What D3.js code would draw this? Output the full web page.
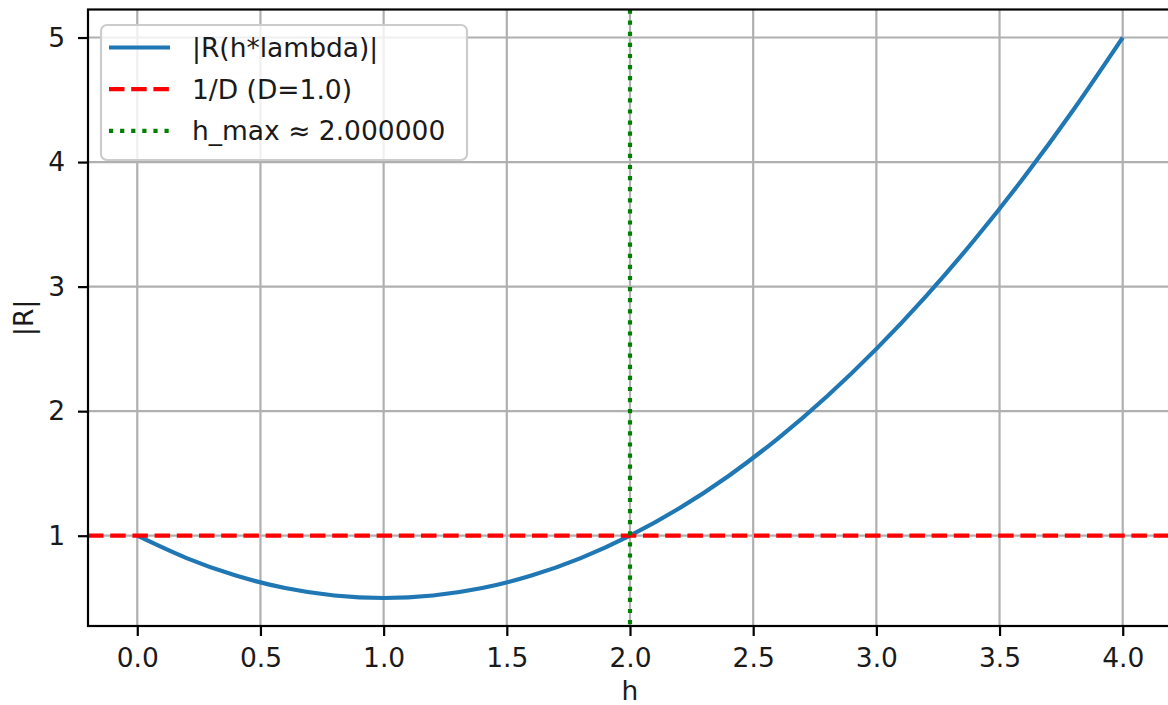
<!DOCTYPE html>
<html><head><meta charset="utf-8">
<script src="https://d3js.org/d3.v7.min.js"></script>
<style>body{margin:0;background:#fff}svg{display:block}text{font-family:"DejaVu Sans",sans-serif;fill:#1a1a1a}</style>
</head><body>
<script>
const hValues = [0,0.2,0.4,0.6,0.8,1.0,1.2,1.4,1.6,1.8,2.0,2.2,2.4,2.6,2.8,3.0,3.2,3.4,3.6,3.8,4.0];
const rValues = [1.0,0.82,0.68,0.58,0.52,0.5,0.52,0.58,0.68,0.82,1.0,1.22,1.48,1.78,2.12,2.5,2.92,3.38,3.88,4.42,5.0];
const xTicks = [0,0.5,1,1.5,2,2.5,3,3.5,4];
const yTicks = [1,2,3,4,5];
const refLevel = 1.0;
const hMax = 2.0;
const legendLabels = ["|R(h*lambda)|","1/D (D=1.0)","h_max \u2248 2.000000"];

const W=1168,H=705;
const m={left:88,top:9.5,right:1172,bottom:626};
const x=d3.scaleLinear().domain([-0.2,4.2]).range([m.left,m.right]);
const y=d3.scaleLinear().domain([0.275,5.225]).range([m.bottom,m.top]);
const svg=d3.select("body").append("svg").attr("width",W).attr("height",H);
const fs=26.5;
const lw=4.2, gw=2.2;

svg.append("clipPath").attr("id","plotclip").append("rect")
  .attr("x",m.left).attr("y",m.top).attr("width",m.right-m.left).attr("height",m.bottom-m.top);

// grid
const g=svg.append("g");
g.selectAll(".gx").data(xTicks).join("line")
  .attr("x1",d=>x(d)).attr("x2",d=>x(d)).attr("y1",m.top).attr("y2",m.bottom)
  .attr("stroke","#b0b0b0").attr("stroke-width",gw);
g.selectAll(".gy").data(yTicks).join("line")
  .attr("x1",m.left).attr("x2",m.right).attr("y1",d=>y(d)).attr("y2",d=>y(d))
  .attr("stroke","#b0b0b0").attr("stroke-width",gw);

const plot=svg.append("g").attr("clip-path","url(#plotclip)");
const pts=hValues.map((h,i)=>[h,rValues[i]]);
plot.append("path").datum(pts)
  .attr("d",d3.line().x(d=>x(d[0])).y(d=>y(d[1])).curve(d3.curveNatural))
  .attr("fill","none").attr("stroke","#1f77b4").attr("stroke-width",lw);
plot.append("line").attr("x1",m.left).attr("x2",m.right).attr("y1",y(refLevel)).attr("y2",y(refLevel))
  .attr("stroke","#ff0000").attr("stroke-width",lw).attr("stroke-dasharray","15.5,6.7");
plot.append("line").attr("x1",x(hMax)).attr("x2",x(hMax)).attr("y1",m.top).attr("y2",m.bottom)
  .attr("stroke","#008000").attr("stroke-width",lw).attr("stroke-dasharray","4.2,6.9");

// axes
const xa=svg.append("g").attr("transform",`translate(0,${m.bottom})`)
  .call(d3.axisBottom(x).tickValues(xTicks).tickFormat(d3.format(".1f")).tickSize(10).tickPadding(12));
const ya=svg.append("g").attr("transform",`translate(${m.left},0)`)
  .call(d3.axisLeft(y).tickValues(yTicks).tickFormat(d3.format("d")).tickSize(10).tickPadding(13));
[xa,ya].forEach(a=>{
  a.select(".domain").remove();
  a.selectAll(".tick line").attr("stroke","#000").attr("stroke-width",gw);
  a.selectAll(".tick text").attr("font-size",fs).attr("font-family","DejaVu Sans").attr("fill","#1a1a1a");
});
// spines
svg.append("rect").attr("x",m.left).attr("y",m.top).attr("width",m.right-m.left).attr("height",m.bottom-m.top)
  .attr("fill","none").attr("stroke","#000").attr("stroke-width",gw);

svg.append("text").attr("x",x(2)).attr("y",700).attr("text-anchor","middle").attr("font-size",fs).text("h");
svg.append("text").attr("transform",`translate(33,${(m.top+m.bottom)/2}) rotate(-90)`)
  .attr("text-anchor","middle").attr("font-size",fs).text("|R|");

// legend
const lg=svg.append("g");
lg.append("rect").attr("x",101).attr("y",25).attr("width",366).attr("height",135).attr("rx",6)
  .attr("fill","#fff").attr("fill-opacity",0.8).attr("stroke","#cccccc").attr("stroke-width",gw);
const styles=[{c:"#1f77b4",d:null},{c:"#ff0000",d:"15.5,6.7"},{c:"#008000",d:"4.2,6.9"}];
legendLabels.forEach((t,i)=>{
  const yy=47.5+i*41.7;
  lg.append("line").attr("x1",109).attr("x2",170).attr("y1",yy).attr("y2",yy)
    .attr("stroke",styles[i].c).attr("stroke-width",lw).attr("stroke-dasharray",styles[i].d);
  lg.append("text").attr("x",192).attr("y",yy).attr("dy","0.36em").attr("font-size",fs).text(t);
});
</script>
</body></html>
